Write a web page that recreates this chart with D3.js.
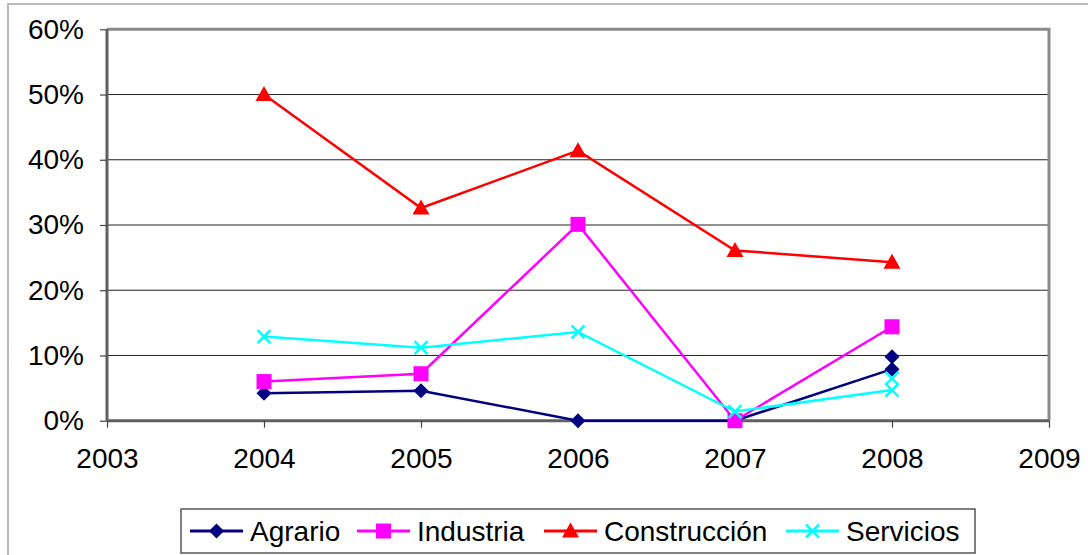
<!DOCTYPE html>
<html>
<head>
<meta charset="utf-8">
<script src="https://cdn.jsdelivr.net/npm/d3@7"></script>
<style>
  body { margin: 0; background: #fff; }
  text { font-family: "Liberation Sans", Arial, sans-serif; }
</style>
</head>
<body>
<div id="plot"></div>
<script>
// values (percent)
const years = [2004, 2005, 2006, 2007, 2008];
const agrario = [4.2, 4.6, 0, 0, 7.9];
const industria = [6.0, 7.2, 30.1, 0, 14.4];
const construccion = [50.0, 32.6, 41.4, 26.1, 24.3];
const servicios = [12.9, 11.2, 13.6, 1.4, 4.7];
// stray markers at 2008 (no line through them)
const agrarioExtra = [{year: 2008, v: 9.8}];
const serviciosExtra = [{year: 2008, v: 6.5}];
const yTicks = [0, 10, 20, 30, 40, 50, 60];
const xTicks = [2003, 2004, 2005, 2006, 2007, 2008, 2009];

const w = 1088;
const h = 555;
const plotLeft = 107, plotRight = 1049, plotTop = 29.3, plotBottom = 420.7;

const svg = d3.select("div#plot")
    .append("svg")
    .attr("width", w)
    .attr("height", h);

// outer chart frame
svg.append("rect")
    .attr("x", 8)
    .attr("y", 4)
    .attr("width", 1200)
    .attr("height", 700)
    .attr("fill", "white")
    .attr("stroke", "#b8b8b8")
    .attr("stroke-width", 2);

const x = d3.scaleLinear().domain([2003, 2009]).range([plotLeft, plotRight]);
const y = d3.scaleLinear().domain([0, 60]).range([plotBottom, plotTop]);

// grid lines
svg.append("g")
  .selectAll("line")
  .data(yTicks.slice(1, -1))
  .enter().append("line")
    .attr("x1", plotLeft)
    .attr("x2", plotRight)
    .attr("y1", d => y(d))
    .attr("y2", d => y(d))
    .attr("stroke", "#222")
    .attr("stroke-width", 1);

// plot border (top/right)
svg.append("path")
    .attr("d", `M${plotLeft},${plotTop}H${plotRight}V${plotBottom}`)
    .attr("fill", "none")
    .attr("stroke", "#8a8a8a")
    .attr("stroke-width", 3);

// axes
const yAxis = d3.axisLeft(y)
    .tickValues(yTicks)
    .tickSize(7)
    .tickPadding(16)
    .tickFormat(d => d + "%");

const xAxis = d3.axisBottom(x)
    .tickValues(xTicks)
    .tickSize(7)
    .tickPadding(20)
    .tickFormat(d3.format("d"));

const gy = svg.append("g")
    .attr("transform", `translate(${plotLeft},0)`)
    .call(yAxis);

const gx = svg.append("g")
    .attr("transform", `translate(0,${plotBottom})`)
    .call(xAxis);

[gx, gy].forEach(g => {
  g.select(".domain").attr("stroke", "#606060").attr("stroke-width", 3);
  g.selectAll(".tick line").attr("stroke", "#444").attr("stroke-width", 1.2);
  g.selectAll(".tick text")
      .attr("fill", "#000")
      .style("font-size", "28px")
      .style("font-family", "Liberation Sans, Arial, sans-serif");
});
gy.select(".domain").attr("d", `M0,${plotTop}V${plotBottom}`);
gx.select(".domain").attr("d", `M${plotLeft},0H${plotRight}`);

// markers
function marker(g, type, color) {
  if (type === "diamond") {
    g.append("path").attr("d", "M0,-7.5L7.5,0L0,7.5L-7.5,0Z").attr("fill", color);
  } else if (type === "square") {
    g.append("rect").attr("x", -7.5).attr("y", -7.5).attr("width", 15).attr("height", 15).attr("fill", color);
  } else if (type === "triangle") {
    g.append("path").attr("d", "M0,-8.5L8.5,6.5L-8.5,6.5Z").attr("fill", color);
  } else {
    g.append("path").attr("d", "M-6.5,-6.5L6.5,6.5M-6.5,6.5L6.5,-6.5")
        .attr("stroke", color).attr("stroke-width", 2.5).attr("fill", "none");
  }
}

const series = [
  {name: "Agrario", values: agrario, color: "#000080", type: "diamond", extra: agrarioExtra},
  {name: "Industria", values: industria, color: "#ff00ff", type: "square", extra: []},
  {name: "Construcción", values: construccion, color: "#ff0000", type: "triangle", extra: []},
  {name: "Servicios", values: servicios, color: "#00ffff", type: "cross", extra: serviciosExtra}
];

const line = d3.line()
    .x((d, i) => x(years[i]))
    .y(d => y(d));

series.forEach(s => {
  const g = svg.append("g");
  g.append("path")
      .attr("d", line(s.values))
      .attr("fill", "none")
      .attr("stroke", s.color)
      .attr("stroke-width", 2.5);
  s.values.forEach((v, i) => {
    marker(g.append("g").attr("transform", `translate(${x(years[i])},${y(v)})`), s.type, s.color);
  });
  s.extra.forEach(p => {
    marker(g.append("g").attr("transform", `translate(${x(p.year)},${y(p.v)})`), s.type, s.color);
  });
});

// legend
const legendX = [190, 357, 544, 786];
const lg = svg.append("g");
lg.append("rect")
    .attr("x", 181)
    .attr("y", 509)
    .attr("width", 794)
    .attr("height", 44)
    .attr("fill", "white")
    .attr("stroke", "#555")
    .attr("stroke-width", 1.5);

series.forEach((s, i) => {
  const g = lg.append("g").attr("transform", `translate(${legendX[i]},531)`);
  g.append("line")
      .attr("x1", 0).attr("x2", 53)
      .attr("stroke", s.color)
      .attr("stroke-width", 3);
  marker(g.append("g").attr("transform", "translate(26.5,0)"), s.type, s.color);
  g.append("text")
      .attr("x", 60)
      .attr("y", 0)
      .attr("dy", "0.35em")
      .attr("fill", "#000")
      .style("font-size", "28px")
      .text(s.name);
});
</script>
</body>
</html>
